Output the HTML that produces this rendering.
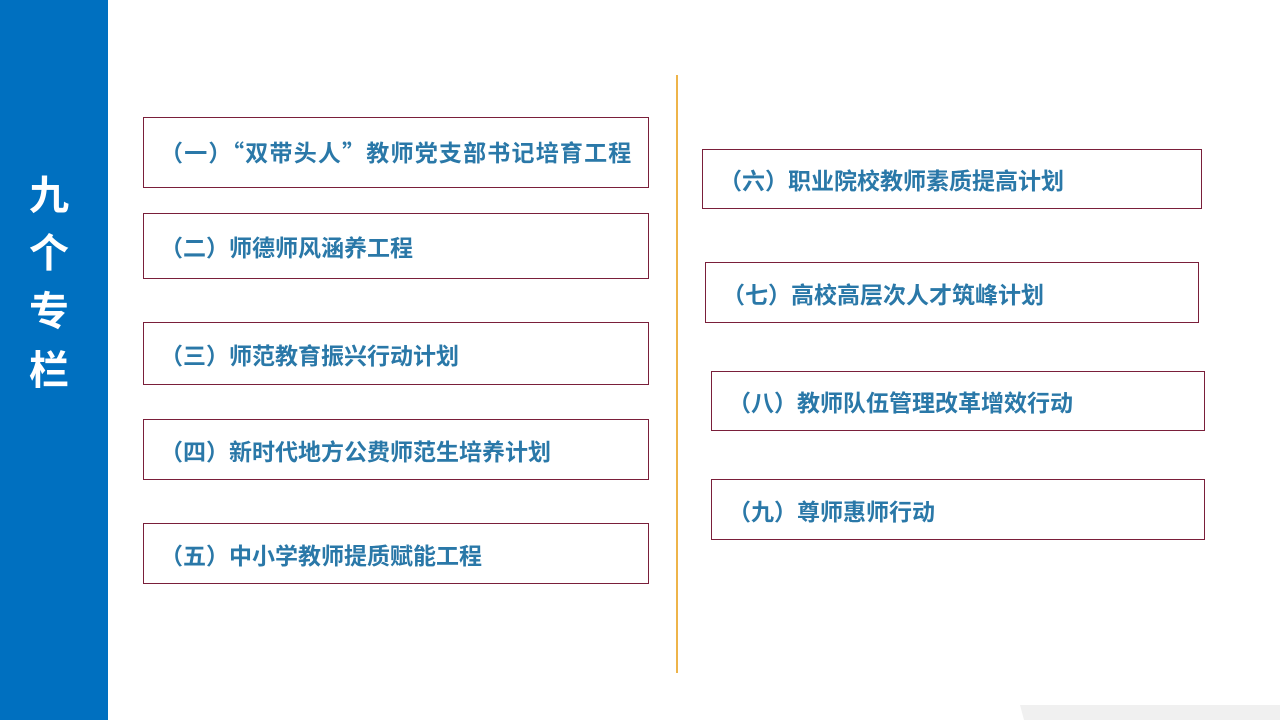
<!DOCTYPE html>
<html><head><meta charset="utf-8"><style>
body{margin:0;width:1280px;height:720px;position:relative;background:#fff;overflow:hidden;font-family:"Liberation Sans","Noto Sans CJK SC",sans-serif}
.bar{position:absolute;left:0;top:0;width:108px;height:720px;background:#0070c0}
.t{position:absolute;left:27px;width:44px;color:#fff;font-size:40px;font-weight:bold;text-align:center;line-height:40px}
.b{position:absolute;border:1px solid #7a1f3a;box-sizing:border-box;color:#2a78a8;font-weight:bold;font-size:23px;font-family:"Noto Sans CJK SC",sans-serif;display:flex;align-items:center;padding-left:16px;white-space:nowrap}
.ln{position:absolute;left:676px;top:75px;width:2px;height:598px;background:#eeb44a}
.ft{position:absolute;left:1020px;top:705px;width:260px;height:15px;background:#f0f0f0;clip-path:polygon(0 0,100% 0,100% 100%,4px 100%)}
</style></head><body>
<div class="bar"></div>
<div class="t" style="top:176px">九</div>
<div class="t" style="top:234px">个</div>
<div class="t" style="top:292px">专</div>
<div class="t" style="top:351px">栏</div>
<div class="ln"></div>
<div class="b" style="left:143px;top:117px;width:506px;height:71px;padding-bottom:3px;letter-spacing:1.2px">（一）“双带头人”教师党支部书记培育工程</div>
<div class="b" style="left:143px;top:213px;width:506px;height:66px">（二）师德师风涵养工程</div>
<div class="b" style="left:143px;top:322px;width:506px;height:63px">（三）师范教育振兴行动计划</div>
<div class="b" style="left:143px;top:419px;width:506px;height:61px">（四）新时代地方公费师范生培养计划</div>
<div class="b" style="left:143px;top:523px;width:506px;height:61px">（五）中小学教师提质赋能工程</div>
<div class="b" style="left:702px;top:149px;width:500px;height:60px">（六）职业院校教师素质提高计划</div>
<div class="b" style="left:705px;top:262px;width:494px;height:61px">（七）高校高层次人才筑峰计划</div>
<div class="b" style="left:711px;top:371px;width:494px;height:60px">（八）教师队伍管理改革增效行动</div>
<div class="b" style="left:711px;top:479px;width:494px;height:61px">（九）尊师惠师行动</div>
<div class="ft"></div>
</body></html>
